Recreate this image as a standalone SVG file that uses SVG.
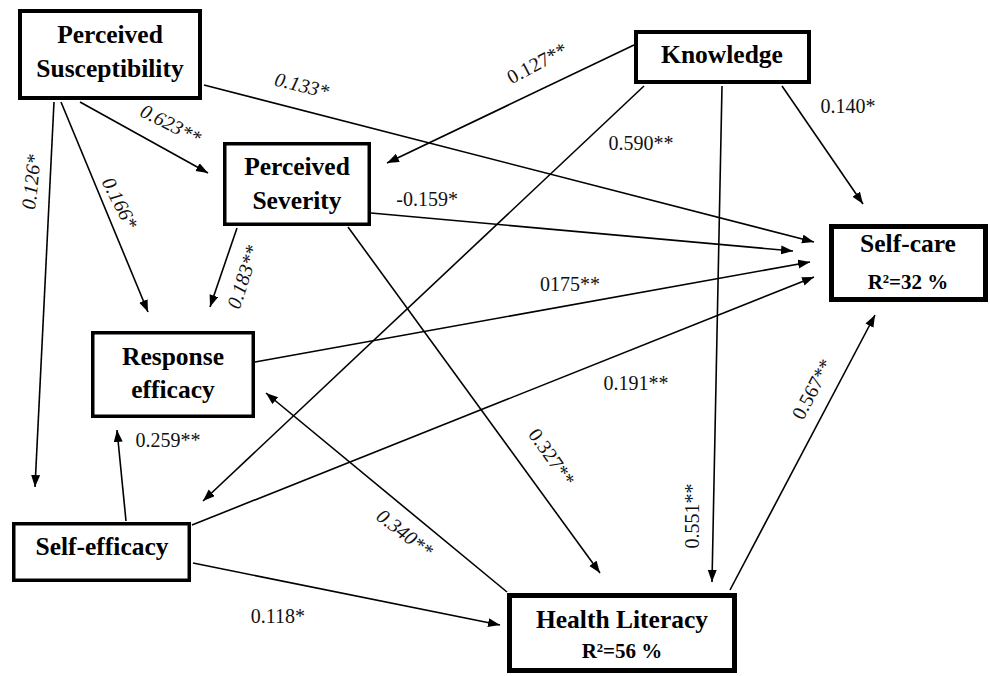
<svg xmlns="http://www.w3.org/2000/svg" width="990" height="676" viewBox="0 0 990 676">
<style>
.box{fill:#fff;stroke:#000}
.nt{font-family:"Liberation Serif","Times New Roman",serif;font-weight:bold;font-size:25.5px;text-anchor:middle;fill:#000}
.r2{font-family:"Liberation Serif","Times New Roman",serif;font-weight:bold;font-size:21px;text-anchor:middle;fill:#000}
.el{font-family:"Liberation Serif","Times New Roman",serif;font-size:20px;fill:#111}
.c{text-anchor:middle}
.it{font-style:italic}
.e line{stroke:#000;stroke-width:1.6;marker-end:url(#ah)}
</style>
<defs>
<marker id="ah" markerUnits="userSpaceOnUse" markerWidth="12" markerHeight="10" refX="12" refY="4.5" orient="auto">
<path d="M0,0 L12,4.5 L0,9 z" fill="#000"/>
</marker>
</defs>
<rect width="990" height="676" fill="#fff"/>
<g id="connectors" class="e">
<line x1="80" y1="102" x2="208" y2="173"/>
<line x1="204" y1="85" x2="814" y2="242"/>
<line x1="54" y1="102" x2="35" y2="487"/>
<line x1="61" y1="102" x2="148" y2="312"/>
<line x1="634" y1="45" x2="387" y2="163"/>
<line x1="644" y1="86" x2="203" y2="501"/>
<line x1="722" y1="86" x2="712" y2="582"/>
<line x1="782" y1="86" x2="863" y2="204"/>
<line x1="371" y1="213" x2="793" y2="251"/>
<line x1="237" y1="228" x2="210" y2="307"/>
<line x1="348" y1="227" x2="600" y2="573"/>
<line x1="255" y1="362" x2="810" y2="262"/>
<line x1="192" y1="525" x2="814" y2="277"/>
<line x1="126" y1="521" x2="117" y2="430"/>
<line x1="507" y1="592" x2="266" y2="393"/>
<line x1="193" y1="563" x2="500" y2="625"/>
<line x1="730" y1="590" x2="875" y2="315"/>
</g>
<g id="edge-labels">
<text class="el c it" transform="translate(302,85) rotate(14)" dy="0.35em">0.133*</text>
<text class="el c it" transform="translate(171,124) rotate(27)" dy="0.35em">0.623**</text>
<text class="el c it" transform="translate(31,182) rotate(-84)" dy="0.35em">0.126*</text>
<text class="el c it" transform="translate(120,203) rotate(63)" dy="0.35em">0.166*</text>
<text class="el c" transform="translate(537,63) rotate(-28)" dy="0.35em">0.127**</text>
<text class="el c" x="641" y="150">0.590**</text>
<text class="el c" transform="translate(692,516) rotate(-90)" dy="0.35em">0.551**</text>
<text class="el c" x="848" y="113">0.140*</text>
<text class="el" x="458" y="206" text-anchor="end">-0.159*</text>
<text class="el c it" transform="translate(243,277) rotate(-72)" dy="0.35em">0.183**</text>
<text class="el c" transform="translate(552,457) rotate(55)" dy="0.35em">0.327**</text>
<text class="el c" x="570" y="291">0175**</text>
<text class="el c" x="636" y="390">0.191**</text>
<text class="el c" x="168" y="447">0.259**</text>
<text class="el c it" transform="translate(405,533) rotate(38)" dy="0.35em">0.340**</text>
<text class="el c" x="278" y="623">0.118*</text>
<text class="el c" transform="translate(812,389) rotate(-62)" dy="0.35em">0.567**</text>
</g>
<g id="perceived-susceptibility">
<rect class="box" x="20" y="11" width="180" height="87" stroke-width="4"/>
<text class="nt" x="110" y="43">Perceived</text>
<text class="nt" x="110" y="77">Susceptibility</text>
</g>
<g id="perceived-severity">
<rect class="box" x="224.75" y="143.75" width="144.5" height="80.5" stroke-width="3.5"/>
<text class="nt" x="297" y="175">Perceived</text>
<text class="nt" x="297" y="209">Severity</text>
</g>
<g id="knowledge">
<rect class="box" x="636" y="32" width="173" height="50" stroke-width="4"/>
<text class="nt" x="722" y="63">Knowledge</text>
</g>
<g id="self-care">
<rect class="box" x="831.5" y="226.5" width="154" height="73" stroke-width="5"/>
<text class="nt" x="908" y="252">Self-care</text>
<text class="r2" x="908" y="289">R²=32 %</text>
</g>
<g id="response-efficacy">
<rect class="box" x="92.75" y="332.75" width="160.5" height="83.5" stroke-width="3.5"/>
<text class="nt" x="173" y="365">Response</text>
<text class="nt" x="173" y="398">efficacy</text>
</g>
<g id="self-efficacy">
<rect class="box" x="13.75" y="523.75" width="175.5" height="56.5" stroke-width="3.5"/>
<text class="nt" x="102" y="555">Self-efficacy</text>
</g>
<g id="health-literacy">
<rect class="box" x="509.5" y="595.5" width="225" height="75" stroke-width="5"/>
<text class="nt" x="622" y="628">Health Literacy</text>
<text class="r2" x="622" y="658">R²=56 %</text>
</g>
</svg>
